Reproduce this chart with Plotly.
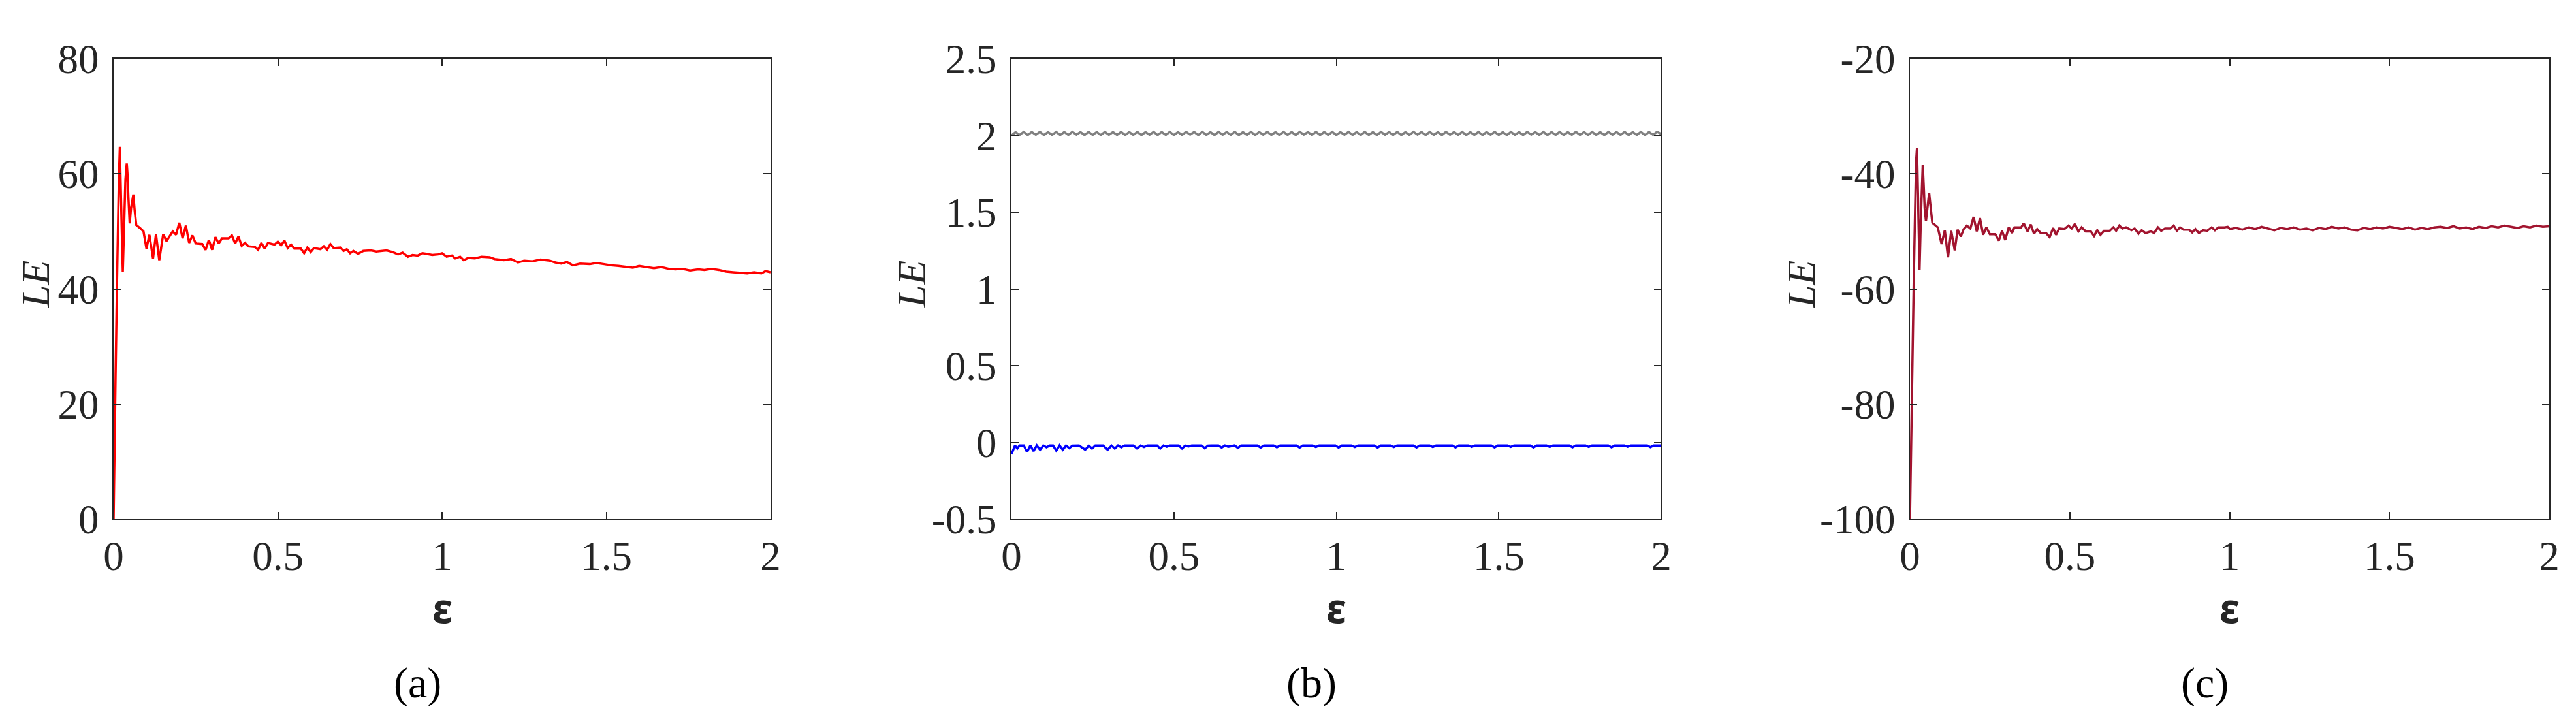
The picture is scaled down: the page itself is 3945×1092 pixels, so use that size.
import numpy as np
import plotly.graph_objects as go

# ---- data ----
eps_a = [0, 0.003, 0.006, 0.010, 0.013, 0.016, 0.019, 0.021, 0.023, 0.028, 0.033, 0.036,
         0.040, 0.042, 0.045, 0.049, 0.053, 0.060, 0.064, 0.069, 0.080, 0.091, 0.100, 0.109,
         0.120, 0.129, 0.139, 0.151, 0.161, 0.180, 0.190, 0.200, 0.210, 0.220, 0.230, 0.240,
         0.250, 0.270, 0.280, 0.290, 0.300, 0.310, 0.320, 0.330, 0.350, 0.360, 0.370, 0.380,
         0.390, 0.400, 0.410, 0.430, 0.440, 0.450, 0.460, 0.470, 0.490, 0.500, 0.510, 0.520,
         0.530, 0.540, 0.550, 0.570, 0.580, 0.590, 0.600, 0.610, 0.630, 0.640, 0.650, 0.660,
         0.670, 0.690, 0.700, 0.710, 0.720, 0.730, 0.744, 0.760, 0.783, 0.800, 0.831, 0.850,
         0.866, 0.880, 0.896, 0.910, 0.926, 0.940, 0.952, 0.970, 0.988, 1.000, 1.014, 1.030,
         1.040, 1.055, 1.066, 1.080, 1.100, 1.120, 1.145, 1.160, 1.188, 1.210, 1.231, 1.250,
         1.275, 1.300, 1.328, 1.345, 1.363, 1.380, 1.398, 1.420, 1.450, 1.470, 1.494, 1.515,
         1.537, 1.560, 1.581, 1.600, 1.624, 1.645, 1.667, 1.690, 1.711, 1.730, 1.755, 1.780,
         1.799, 1.820, 1.843, 1.865, 1.886, 1.910, 1.929, 1.950, 1.972, 1.985, 2.000]
le_a = [0, 17.0, 25.0, 40.0, 51.3, 59.2, 64.7, 60.9, 54.5, 43.0, 51.8, 59.0,
        61.8, 60.2, 56.0, 51.4, 54.0, 56.4, 53.7, 51.1, 50.6, 50.0, 47.0, 49.4,
        45.3, 49.5, 45.0, 49.5, 48.3, 50.0, 49.4, 51.5, 48.8, 51.0, 48.0, 49.3,
        47.9, 47.8, 46.8, 48.5, 46.8, 49.0, 47.9, 48.8, 48.8, 49.3, 47.9, 49.1,
        47.5, 48.0, 47.4, 47.3, 46.8, 48.0, 47.0, 48.0, 47.7, 48.2, 47.6, 48.4,
        47.1, 47.7, 47.0, 47.0, 46.2, 47.2, 46.4, 47.1, 46.9, 47.4, 46.8, 47.8,
        47.1, 47.2, 46.6, 46.9, 46.2, 46.6, 46.1, 46.6, 46.7, 46.5, 46.7, 46.4,
        46.0, 46.3, 45.6, 45.9, 45.8, 46.2, 46.1, 45.9, 46.0, 46.2, 45.6, 45.8,
        45.3, 45.6, 45.0, 45.4, 45.3, 45.6, 45.5, 45.2, 45.0, 45.2, 44.6, 44.9,
        44.8, 45.1, 44.9, 44.6, 44.4, 44.7, 44.1, 44.4, 44.3, 44.5, 44.3, 44.1,
        44.0, 43.8, 43.7, 44.0, 43.8, 43.6, 43.8, 43.5, 43.4, 43.5, 43.2, 43.4,
        43.3, 43.5, 43.3, 43.0, 42.9, 42.8, 42.7, 42.9, 42.7, 43.1, 42.9]

eps_b_gray = np.arange(0, 2.0001, 0.0125)
le_b_gray = [2.000, 2.022, 2.004, 2.024, 2.003, 2.023, 2.005, 2.024, 2.003, 2.022,
             2.004, 2.024, 2.003, 2.023, 2.004, 2.024, 2.006, 2.022, 2.003, 2.024,
             2.004, 2.023, 2.003, 2.024, 2.005, 2.022, 2.004, 2.024, 2.003, 2.023,
             2.004, 2.024, 2.003, 2.022, 2.005, 2.024, 2.003, 2.023, 2.004, 2.024,
             2.003, 2.022, 2.004, 2.024, 2.006, 2.023, 2.003, 2.024, 2.004, 2.022,
             2.003, 2.024, 2.005, 2.023, 2.004, 2.024, 2.003, 2.022, 2.004, 2.024,
             2.003, 2.023, 2.005, 2.024, 2.004, 2.022, 2.003, 2.024, 2.004, 2.023,
             2.003, 2.024, 2.006, 2.022, 2.004, 2.024, 2.003, 2.023, 2.004, 2.024,
             2.003, 2.022, 2.005, 2.024, 2.004, 2.023, 2.003, 2.024, 2.004, 2.022,
             2.003, 2.024, 2.005, 2.023, 2.004, 2.024, 2.003, 2.022, 2.004, 2.024,
             2.006, 2.023, 2.003, 2.024, 2.004, 2.022, 2.003, 2.024, 2.005, 2.023,
             2.004, 2.024, 2.003, 2.022, 2.004, 2.024, 2.003, 2.023, 2.005, 2.024,
             2.004, 2.022, 2.003, 2.024, 2.004, 2.023, 2.003, 2.024, 2.006, 2.022,
             2.004, 2.024, 2.003, 2.023, 2.004, 2.024, 2.003, 2.022, 2.005, 2.024,
             2.004, 2.023, 2.003, 2.024, 2.004, 2.022, 2.003, 2.024, 2.005, 2.023,
             2.004, 2.024, 2.003, 2.022, 2.004, 2.024, 2.003, 2.023, 2.005, 2.024,
             2.010]

eps_b_blue = [0, 0.011, 0.018, 0.025, 0.038, 0.048, 0.058, 0.068, 0.078, 0.088, 0.098,
              0.108, 0.118, 0.128, 0.138, 0.148, 0.158, 0.168, 0.178, 0.188, 0.208, 0.227,
              0.238, 0.248, 0.258, 0.282, 0.296, 0.308, 0.318, 0.328, 0.338, 0.348, 0.375,
              0.387, 0.398, 0.408, 0.418, 0.448, 0.458, 0.468, 0.478, 0.488, 0.515, 0.525,
              0.535, 0.545, 0.555, 0.585, 0.595, 0.605, 0.615, 0.637, 0.647, 0.657, 0.667,
              0.687, 0.697, 0.707, 0.757, 0.767, 0.777, 0.787, 0.807, 0.817, 0.827, 0.877,
              0.887, 0.897, 0.927, 0.937, 0.947, 0.997, 1.007, 1.017, 1.047, 1.057, 1.067,
              1.117, 1.127, 1.137, 1.167, 1.177, 1.187, 1.237, 1.247, 1.257, 1.287, 1.297,
              1.307, 1.357, 1.367, 1.377, 1.407, 1.417, 1.427, 1.477, 1.487, 1.497, 1.527,
              1.537, 1.547, 1.597, 1.607, 1.617, 1.647, 1.657, 1.667, 1.717, 1.727, 1.737,
              1.767, 1.777, 1.787, 1.837, 1.847, 1.857, 1.887, 1.897, 1.907, 1.957, 1.967,
              1.977, 2.000]
le_b_blue = [-0.077, -0.020, -0.040, -0.020, -0.020, -0.063, -0.020, -0.057, -0.020, -0.048, -0.020,
             -0.032, -0.020, -0.020, -0.054, -0.020, -0.048, -0.021, -0.037, -0.021, -0.020, -0.048,
             -0.021, -0.040, -0.020, -0.020, -0.048, -0.021, -0.040, -0.020, -0.032, -0.020, -0.020,
             -0.040, -0.020, -0.030, -0.020, -0.020, -0.040, -0.020, -0.028, -0.020, -0.020, -0.040,
             -0.021, -0.026, -0.020, -0.020, -0.038, -0.021, -0.020, -0.020, -0.034, -0.020, -0.028,
             -0.020, -0.036, -0.020, -0.020, -0.034, -0.020, -0.020, -0.020, -0.032, -0.020, -0.020,
             -0.034, -0.020, -0.020, -0.030, -0.020, -0.020, -0.034, -0.020, -0.020, -0.030, -0.020,
             -0.020, -0.034, -0.020, -0.020, -0.030, -0.020, -0.020, -0.033, -0.020, -0.020, -0.030,
             -0.020, -0.020, -0.033, -0.020, -0.020, -0.029, -0.020, -0.020, -0.033, -0.020, -0.020,
             -0.029, -0.020, -0.020, -0.033, -0.020, -0.020, -0.029, -0.020, -0.020, -0.032, -0.020,
             -0.020, -0.029, -0.020, -0.020, -0.032, -0.020, -0.020, -0.028, -0.020, -0.020, -0.031,
             -0.020, -0.020]

eps_c = [0, 0.004, 0.008, 0.012, 0.016, 0.019, 0.022, 0.025, 0.027, 0.030, 0.034, 0.037,
         0.040, 0.043, 0.046, 0.050, 0.055, 0.060, 0.065, 0.070, 0.087, 0.099, 0.109, 0.119,
         0.129, 0.140, 0.149, 0.159, 0.168, 0.178, 0.189, 0.199, 0.209, 0.219, 0.229, 0.239,
         0.250, 0.267, 0.278, 0.288, 0.298, 0.309, 0.319, 0.327, 0.348, 0.356, 0.368, 0.378,
         0.388, 0.398, 0.409, 0.426, 0.437, 0.448, 0.457, 0.467, 0.483, 0.496, 0.506, 0.516,
         0.527, 0.537, 0.550, 0.566, 0.576, 0.586, 0.596, 0.607, 0.625, 0.636, 0.645, 0.655,
         0.665, 0.676, 0.693, 0.703, 0.715, 0.725, 0.737, 0.754, 0.764, 0.776, 0.786, 0.798,
         0.815, 0.825, 0.835, 0.845, 0.856, 0.873, 0.883, 0.893, 0.904, 0.917, 0.930, 0.944,
         0.954, 0.965, 0.984, 0.994, 1.001, 1.020, 1.040, 1.060, 1.080, 1.100, 1.120, 1.140,
         1.160, 1.180, 1.200, 1.220, 1.240, 1.260, 1.280, 1.300, 1.320, 1.340, 1.360, 1.380,
         1.400, 1.420, 1.440, 1.460, 1.480, 1.500, 1.520, 1.540, 1.560, 1.580, 1.600, 1.620,
         1.640, 1.660, 1.680, 1.700, 1.720, 1.740, 1.760, 1.780, 1.800, 1.820, 1.840, 1.860,
         1.880, 1.900, 1.920, 1.940, 1.960, 1.980, 2.000]
le_c = [-100.0, -88.0, -72.0, -58.0, -45.0, -38.0, -35.5, -44.0, -52.0, -56.7, -48.0, -42.0,
        -38.4, -42.0, -46.0, -48.2, -45.5, -43.3, -46.0, -48.5, -49.3, -52.2, -49.8, -54.5,
        -49.9, -53.3, -49.7, -50.9, -49.6, -49.0, -49.5, -47.5, -50.0, -47.7, -50.6, -49.3,
        -50.5, -50.5, -51.6, -49.9, -51.5, -49.3, -50.3, -49.3, -49.3, -48.6, -50.0, -48.8,
        -50.4, -49.6, -50.3, -50.3, -51.0, -49.4, -50.6, -49.5, -49.6, -49.0, -49.5, -48.7,
        -50.0, -49.3, -50.0, -50.0, -50.8, -49.8, -50.6, -49.9, -49.9, -49.3, -49.9, -49.0,
        -49.5, -49.3, -49.8, -49.5, -50.4, -49.8, -50.3, -50.0, -50.3, -49.3, -49.9, -49.5,
        -49.5, -49.0, -49.9, -49.3, -49.7, -49.7, -50.2, -49.6, -50.3, -49.8, -49.9, -49.3,
        -49.8, -49.3, -49.3, -49.2, -49.6, -49.4, -49.7, -49.3, -49.6, -49.2, -49.5, -49.8,
        -49.4, -49.6, -49.3, -49.7, -49.5, -49.8, -49.4, -49.6, -49.2, -49.5, -49.3, -49.7,
        -49.8, -49.4, -49.6, -49.3, -49.5, -49.2, -49.4, -49.6, -49.3, -49.7, -49.4, -49.6,
        -49.3, -49.2, -49.4, -49.1, -49.5, -49.3, -49.6, -49.2, -49.4, -49.1, -49.3, -49.0,
        -49.2, -49.4, -49.1, -49.3, -49.0, -49.2, -49.1]

x_ticks = [0, 0.5, 1, 1.5, 2]
x_ticktext = ['0', '0.5', '1', '1.5', '2']
ya_ticks = [0, 20, 40, 60, 80]
ya_ticktext = ['0', '20', '40', '60', '80']
yb_ticks = [-0.5, 0, 0.5, 1, 1.5, 2, 2.5]
yb_ticktext = ['-0.5', '0', '0.5', '1', '1.5', '2', '2.5']
yc_ticks = [-100, -80, -60, -40, -20]
yc_ticktext = ['-100', '-80', '-60', '-40', '-20']
panel_labels = ['(a)', '(b)', '(c)']

W, H = 3945, 1092
# plot boxes in pixels (left, right), shared top/bottom
boxes = [(166, 1172), (1541, 2536), (2917, 3896)]
top, bottom = 82, 787
AXIS_COL = '#262626'
serif = 'Liberation Serif, Times New Roman, serif'

fig = go.Figure()
fig.add_trace(go.Scatter(x=eps_a, y=le_a, mode='lines', line=dict(color='#FF0000', width=3.5),
                         xaxis='x', yaxis='y'))
fig.add_trace(go.Scatter(x=eps_b_gray, y=le_b_gray, mode='lines', line=dict(color='#808080', width=3.5),
                         xaxis='x2', yaxis='y2'))
fig.add_trace(go.Scatter(x=eps_b_blue, y=le_b_blue, mode='lines', line=dict(color='#0000FF', width=3.5),
                         xaxis='x2', yaxis='y2'))
fig.add_trace(go.Scatter(x=eps_c, y=le_c, mode='lines', line=dict(color='#A2142F', width=3.5),
                         xaxis='x3', yaxis='y3'))

ydom = [1 - bottom / H, 1 - top / H]
yspecs = [([0, 80], ya_ticks, ya_ticktext), ([-0.5, 2.5], yb_ticks, yb_ticktext),
          ([-100, -20], yc_ticks, yc_ticktext)]
common = dict(showline=True, linecolor=AXIS_COL, linewidth=2, mirror='ticks', ticks='inside',
              ticklen=11, tickwidth=2, tickcolor=AXIS_COL, showgrid=False, zeroline=False,
              tickfont=dict(family=serif, size=63, color=AXIS_COL), automargin=False)
layout = {}
annotations = []
for i, ((l, r), (yr, yt, ytt)) in enumerate(zip(boxes, yspecs)):
    sfx = '' if i == 0 else str(i + 1)
    layout['xaxis' + sfx] = dict(domain=[l / W, r / W], range=[0, 2], tickvals=x_ticks,
                                 ticktext=x_ticktext, anchor='y' + sfx, ticklabelstandoff=0,
                                 **common)
    layout['yaxis' + sfx] = dict(domain=ydom, range=yr, tickvals=yt, ticktext=ytt,
                                 anchor='x' + sfx, ticklabelstandoff=8, **common)
    cx = (l + r) / 2
    annotations.append(dict(text='<b>ε</b>', x=cx / W, y=1 - 922 / H, xref='paper', yref='paper',
                            xanchor='center', yanchor='middle', showarrow=False,
                            font=dict(family='Noto Sans, DejaVu Sans', size=62, color=AXIS_COL)))
    annotations.append(dict(text=panel_labels[i], x=(cx - 38) / W, y=1 - 1038 / H, xref='paper',
                            yref='paper', xanchor='center', yanchor='middle', showarrow=False,
                            font=dict(family=serif, size=66, color='black')))
le_x = [46, 1388, 2750]
for lx in le_x:
    annotations.append(dict(text='<i>LE</i>', x=lx / W, y=1 - 428 / H, xref='paper', yref='paper',
                            xanchor='center', yanchor='middle', showarrow=False, textangle=-90,
                            font=dict(family=serif, size=62, color=AXIS_COL)))

fig.update_layout(width=W, height=H, margin=dict(l=0, r=0, t=0, b=0), showlegend=False,
                  plot_bgcolor='white', paper_bgcolor='white', annotations=annotations, **layout)
fig.write_html("out.html")
